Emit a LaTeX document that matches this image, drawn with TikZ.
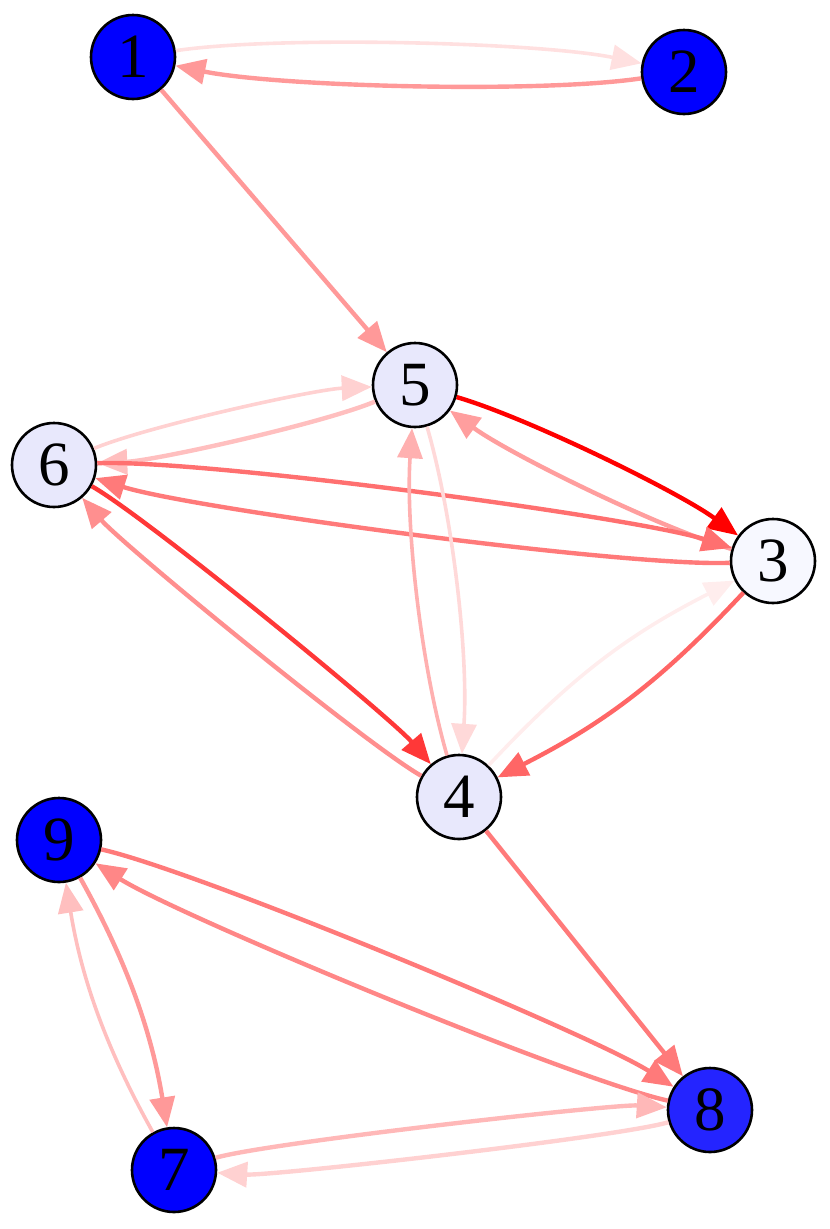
\documentclass[tikz,border=0pt]{standalone}
\usepackage{fontspec}
\setmainfont{Liberation Serif}
\usetikzlibrary{arrows.meta}
\definecolor{vtxblue}{HTML}{0000FF}
\definecolor{vtxbluelt}{HTML}{2424FF}
\definecolor{vtxlav}{HTML}{E8E8FC}
\definecolor{vtxghost}{HTML}{F7F8FF}
\tikzset{
  vertex/.style={
    circle,
    draw=black,
    line width=2.6pt,
    minimum size=84pt,
    inner sep=0pt,
    font=\fontsize{63}{63}\selectfont
  },
  vblue/.style={vertex, fill=vtxblue},
  vbluelt/.style={vertex, fill=vtxbluelt},
  vlav/.style={vertex, fill=vtxlav},
  vghost/.style={vertex, fill=vtxghost},
  link/.style={-{Triangle[length=30pt,width=25pt]}, line width=4.4pt},
  linkthin/.style={link, line width=3.6pt},
  pair/.style={bend left=10, looseness=#1}
}
\begin{document}
\begin{tikzpicture}[x=1pt,y=-1pt]
  \useasboundingbox (0,0) rectangle (830,1229);
  % vertices
  \node[vblue] (n1) at (133,57) {1};
  \node[vblue] (n2) at (684,72) {2};
  \node[vghost] (n3) at (773,561) {3};
  \node[vlav] (n4) at (459,797) {4};
  \node[vlav] (n5) at (415,385) {5};
  \node[vlav] (n6) at (54,465) {6};
  \node[vblue] (n7) at (174,1170) {7};
  \node[vbluelt] (n8) at (710,1110) {8};
  \node[vblue] (n9) at (59,840) {9};
  % edges, top pair
  \draw[linkthin, color=red!12] (n1) to[pair=0.57] (n2);
  \draw[link, color=red!40] (n2) to[pair=0.57] (n1);
  \draw[link, color=red!40] (n1) -- (n5);
  % middle cluster
  \draw[link, color=red] (n5) to[pair=0.6] (n3);
  \draw[link, color=red!38] (n3) to[pair=0.6] (n5);
  \draw[linkthin, color=red!18] (n6) to[pair=0.52] (n5);
  \draw[link, color=red!25] (n5) to[pair=0.52] (n6);
  \draw[link, color=red!56] (n6) to[pair=0.41] (n3);
  \draw[link, color=red!52] (n3) to[pair=0.41] (n6);
  \draw[link, color=red!78] (n6) to[pair=0.36] (n4);
  \draw[link, color=red!44] (n4) to[pair=0.36] (n6);
  \draw[linkthin, color=red!31] (n4) to[pair=0.75] (n5);
  \draw[linkthin, color=red!15] (n5) to[pair=0.75] (n4);
  \draw[linkthin, color=red!7] (n4) to[pair=1] (n3);
  \draw[link, color=red!60] (n3) to[pair=1] (n4);
  \draw[link, color=red!52] (n4) -- (n8);
  % bottom cluster
  \draw[link, color=red!52] (n9) to[pair=0.4] (n8);
  \draw[link, color=red!47] (n8) to[pair=0.4] (n9);
  \draw[link, color=red!40] (n9) to[pair=0.93] (n7);
  \draw[linkthin, color=red!25] (n7) to[pair=0.93] (n9);
  \draw[link, color=red!28] (n7) to[pair=0.3] (n8);
  \draw[link, color=red!18] (n8) to[pair=0.3] (n7);
\end{tikzpicture}
\end{document}
